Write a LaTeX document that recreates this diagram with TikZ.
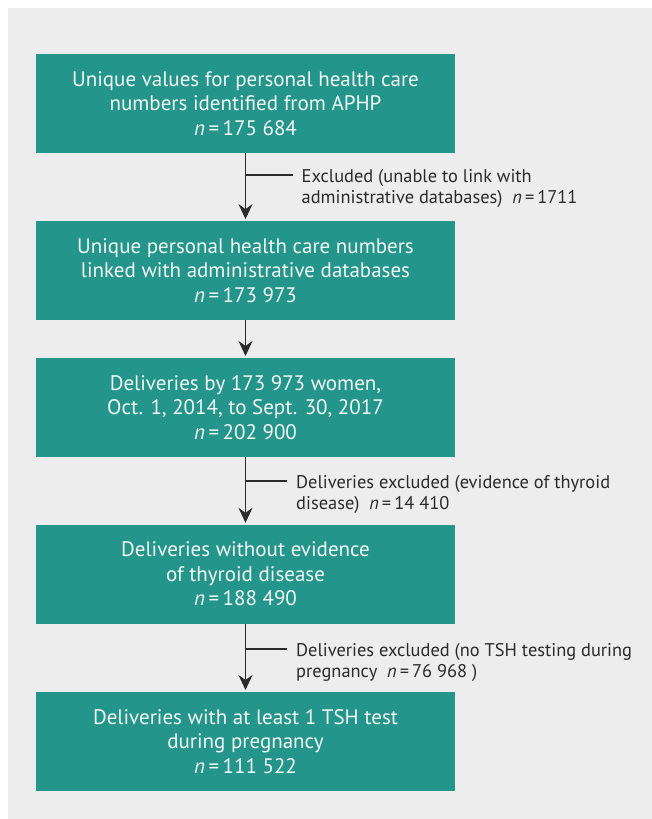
\documentclass[tikz,border=0pt]{standalone}
\usepackage{fontspec}
\setmainfont{PT Sans}
\usetikzlibrary{arrows.meta}
\definecolor{teal1}{HTML}{24958B}
\definecolor{bgc}{HTML}{EDEDED}
\definecolor{txtc}{HTML}{2B2B2B}
\definecolor{boxtxt}{HTML}{F2F7F6}
\begin{document}
\begin{tikzpicture}[x=1pt,y=-1pt,
  flowbox/.style={fill=teal1, draw=none, minimum width=419pt, minimum height=99pt, inner sep=0pt,
    align=center, text=boxtxt, font=\fontsize{21}{24.5}\selectfont},
  sidetext/.style={anchor=base west, align=left, text=txtc, inner sep=0pt,
    font=\fontsize{18.4}{21.5}\selectfont},
  arr/.style={draw=txtc, line width=1.4pt, -{Stealth[length=15pt,width=14pt,inset=5pt]}},
  branch/.style={draw=txtc, line width=1.4pt}]
\useasboundingbox (0,0) rectangle (652,819);
\fill[white] (0,0) rectangle (652,819);
\fill[bgc] (8,8) rectangle (652,819);

\node[flowbox] (b1) at (245.5,103.3) {Unique values for personal health care\\numbers identified from APHP\\\textit{n}\,=\,175 684};
\node[flowbox] (b2) at (245.5,270.3) {Unique personal health care numbers\\linked with administrative databases\\\textit{n}\,=\,173 973};
\node[flowbox] (b3) at (245.5,407.2) {Deliveries by 173 973 women,\\Oct. 1, 2014, to Sept. 30, 2017\\\textit{n}\,=\,202 900};
\node[flowbox] (b4) at (245.5,574) {Deliveries without evidence\\of thyroid disease\\\textit{n}\,=\,188 490};
\node[flowbox] (b5) at (245.5,741.2) {Deliveries with at least 1 TSH test\\during pregnancy\\\textit{n}\,=\,111 522};

\node[sidetext] (t1) at (301.5,203.5) {Excluded (unable to link with\\administrative databases)\ \ \textit{n}\,=\,1711};
\node[sidetext] (t2) at (296,509.8) {Deliveries excluded (evidence of thyroid\\disease)\ \ \textit{n}\,=\,14 410};
\node[sidetext] (t3) at (296,677.5) {Deliveries excluded (no TSH testing during\\pregnancy\ \ \textit{n}\,=\,76 968 )};

\draw[arr] (b1.south) -- ([yshift=1.5pt]b2.north);
\draw[arr] (b2.south) -- ([yshift=1.5pt]b3.north);
\draw[arr] (b3.south) -- ([yshift=1.5pt]b4.north);
\draw[arr] (b4.south) -- ([yshift=1.5pt]b5.north);

\coordinate (j1) at (245.5,175);
\coordinate (j2) at (245.5,481);
\coordinate (j3) at (245.5,649);
\draw[branch] (j1) -- ([xshift=-9pt]t1.west |- j1);
\draw[branch] (j2) -- ([xshift=-9pt]t2.west |- j2);
\draw[branch] (j3) -- ([xshift=-9pt]t3.west |- j3);
\end{tikzpicture}
\end{document}
